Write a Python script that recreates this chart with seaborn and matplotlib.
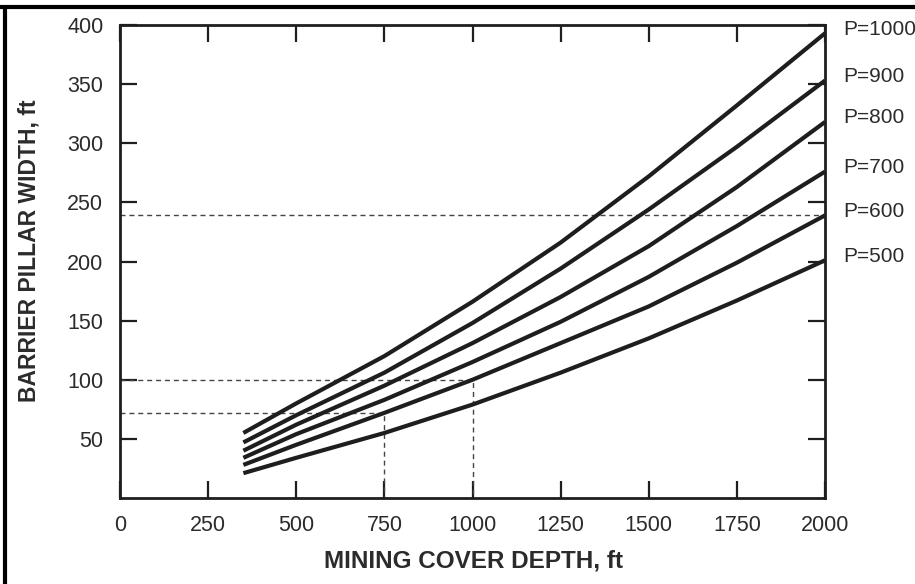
import numpy as np
import pandas as pd
import matplotlib
matplotlib.use("Agg")
import matplotlib.pyplot as plt
from matplotlib.lines import Line2D
import seaborn as sns

# Mining cover depth (ft) at which each design curve is tabulated
depth = [350, 500, 750, 1000, 1250, 1500, 1750, 2000]

# Barrier pillar width (ft) for each value of P
width_p1000 = [55, 80, 120, 166, 216, 272, 332, 393]
width_p900 = [47, 70, 106, 148, 194, 244, 297, 353]
width_p800 = [40, 62, 95, 131, 170, 213, 263, 318]
width_p700 = [34, 54, 83, 115, 149, 187, 230, 276]
width_p600 = [28, 45, 72, 100, 131, 162, 199, 239]
width_p500 = [21, 34, 55, 79, 106, 135, 167, 201]

curve_labels = ["P=1000", "P=900", "P=800", "P=700", "P=600", "P=500"]
curve_widths = [width_p1000, width_p900, width_p800, width_p700, width_p600, width_p500]

x_ticks = [0, 250, 500, 750, 1000, 1250, 1500, 1750, 2000]
y_ticks = [50, 100, 150, 200, 250, 300, 350, 400]

# Worked examples (depth, width)
example_a = (750, 72)
example_b = (1000, 100)
example_c = (2000, 239)

rows = []
for lab, w in zip(curve_labels, curve_widths):
    for d, v in zip(depth, w):
        rows.append({"depth": d, "width": v, "P": lab})
df = pd.DataFrame(rows)

sns.set_style("ticks")
plt.rcParams["font.family"] = ["Liberation Sans", "DejaVu Sans"]

ink = "#1e1e1e"
text_c = "#2b2b2b"

fig = plt.figure(figsize=(9.15, 5.84), dpi=100)
fig.patch.set_facecolor("white")
ax = fig.add_axes([120 / 915, 86 / 584, 705 / 915, 473 / 584])

sns.lineplot(data=df, x="depth", y="width", hue="P", hue_order=curve_labels,
             palette=[ink] * len(curve_labels), linewidth=3.0, legend=False,
             ax=ax, solid_capstyle="butt")

# Dashed construction lines
dash_kw = dict(color="#444444", linewidth=1.0, linestyle=(0, (3.6, 2.8)), zorder=1)
ax.plot([0, example_c[0]], [example_c[1], example_c[1]], **dash_kw)
ax.plot([0, example_b[0], example_b[0]], [example_b[1], example_b[1], 0], **dash_kw)
ax.plot([0, example_a[0], example_a[0]], [example_a[1], example_a[1], 0], **dash_kw)

# Curve names at the right-hand ends
for lab, w in zip(curve_labels, curve_widths):
    ax.annotate(lab, xy=(depth[-1], w[-1]), xytext=(13, 3),
                textcoords="offset points", ha="left", va="center",
                fontsize=15, color=text_c, annotation_clip=False)

ax.set_xlim(0, 2000)
ax.set_ylim(0, 400)
ax.set_xticks(x_ticks)
ax.set_xticklabels([str(t) for t in x_ticks])
ax.set_yticks(y_ticks)
ax.set_yticklabels([str(t) for t in y_ticks])
ax.tick_params(axis="both", direction="in", length=12, width=1.6, color=ink,
               labelsize=15.5, labelcolor=text_c, top=True, right=True, pad=12)

for s in ax.spines.values():
    s.set_visible(True)
    s.set_linewidth(2.0)
    s.set_color(ink)

ax.set_xlabel("MINING COVER DEPTH, ft", fontsize=17.5, fontweight="bold", color=text_c)
ax.set_ylabel("BARRIER PILLAR WIDTH, ft", fontsize=16.5, fontweight="bold", color=text_c,
              va="center")
ax.xaxis.set_label_coords(0.502, -0.108)
ax.yaxis.set_label_coords(-0.129, 0.522)

ax.set_facecolor("white")

# Page border along the top and left edges
fig.add_artist(Line2D([0, 1], [1 - 6.5 / 584, 1 - 6.5 / 584], color="black",
                      linewidth=3.0, transform=fig.transFigure))
fig.add_artist(Line2D([5 / 915, 5 / 915], [0, 1 - 6.5 / 584], color="black",
                      linewidth=3.0, transform=fig.transFigure))

fig.savefig("out.png", dpi=100)
